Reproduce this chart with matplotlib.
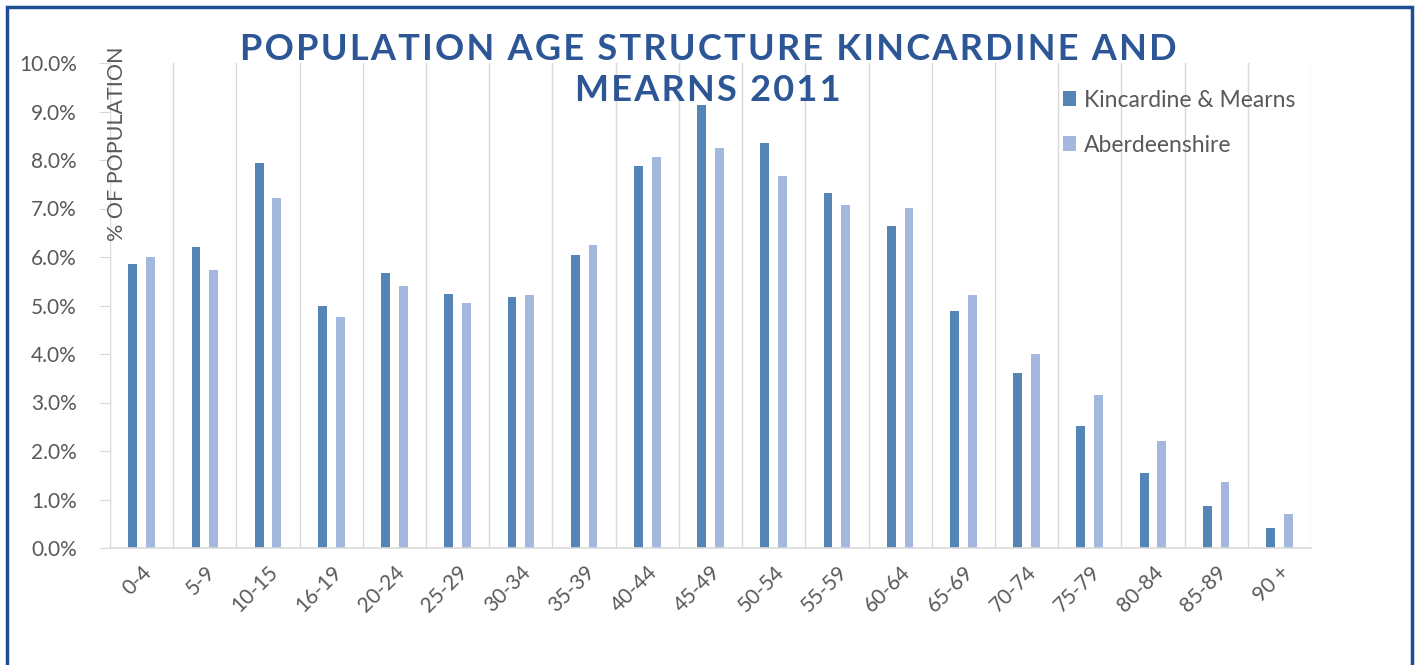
import numpy as np
import matplotlib.pyplot as plt
from matplotlib.patches import Rectangle
from matplotlib.ticker import PercentFormatter, FixedLocator

age_groups = ['0-4', '5-9', '10-15', '16-19', '20-24', '25-29', '30-34', '35-39',
              '40-44', '45-49', '50-54', '55-59', '60-64', '65-69', '70-74',
              '75-79', '80-84', '85-89', '90 +']
kincardine = [5.85, 6.20, 7.93, 4.98, 5.66, 5.23, 5.17, 6.05, 7.87, 9.13,
              8.36, 7.31, 6.64, 4.88, 3.60, 2.52, 1.55, 0.87, 0.41]
aberdeenshire = [5.99, 5.74, 7.21, 4.77, 5.41, 5.06, 5.21, 6.24, 8.06, 8.24,
                 7.67, 7.07, 7.02, 5.21, 3.99, 3.16, 2.21, 1.36, 0.70]

dark = '#5585b6'
light = '#a3b8dc'
grey = '#595959'
title_col = '#2c5696'

plt.rcParams['font.family'] = ['Lato', 'DejaVu Sans']

fig = plt.figure(figsize=(14.18, 6.65), dpi=100)
ax = fig.add_axes([110 / 1418, 1 - 548 / 665, 1201 / 1418, 485 / 665])

x = np.arange(len(age_groups))
w = 0.14
ax.bar(x - w, kincardine, width=w, color=dark, label='Kincardine & Mearns')
ax.bar(x + w, aberdeenshire, width=w, color=light, label='Aberdeenshire')

ax.set_xlim(-0.5, len(age_groups) - 0.5)
ax.set_ylim(0, 10)
ax.yaxis.set_major_locator(FixedLocator(np.arange(0, 10.5, 1)))
ax.yaxis.set_major_formatter(PercentFormatter(decimals=1))
ax.set_xticks(x)
ax.set_xticklabels(age_groups, rotation=45, ha='right', rotation_mode='anchor')
ax.xaxis.set_minor_locator(FixedLocator(np.arange(-0.5, len(age_groups), 1)))
ax.grid(which='minor', axis='x', color='#d9d9d9', linewidth=1)
ax.tick_params(axis='x', which='both', length=0, labelsize=15, labelcolor=grey, pad=10)
ax.tick_params(axis='y', length=8, color='#d9d9d9', labelsize=15, labelcolor=grey, pad=16)
for s in ['top', 'right', 'left']:
    ax.spines[s].set_visible(False)
ax.spines['bottom'].set_color('#d9d9d9')
ax.spines['bottom'].set_linewidth(1.2)
ax.set_axisbelow(True)

fig.text(117 / 1418, 1 - 144 / 665, '% OF POPULATION', rotation=90, ha='center',
         va='center', fontsize=15.5, color=grey)

title = '\u200a'.join('POPULATION AGE STRUCTURE KINCARDINE AND') + '\n' + \
        '\u200a'.join('MEARNS 2011')
fig.text(708 / 1418, 1 - 70 / 665, title, ha='center', va='center', fontsize=26,
         fontweight='bold', color=title_col, linespacing=1.3)

ax.legend(loc='upper left', bbox_to_anchor=(1042 / 1418, 1 - 69 / 665),
          bbox_transform=fig.transFigure, frameon=False, fontsize=16.5,
          labelcolor=grey, handlelength=0.6, handleheight=0.6, handletextpad=0.35,
          labelspacing=1.05)

fig.patches.append(Rectangle((7 / 1418, -0.05), 1405 / 1418, 1 - 7 / 665 + 0.05,
                             transform=fig.transFigure, fill=False,
                             edgecolor='#1f4e94', linewidth=2.5))

fig.savefig('out.png', dpi=100)
